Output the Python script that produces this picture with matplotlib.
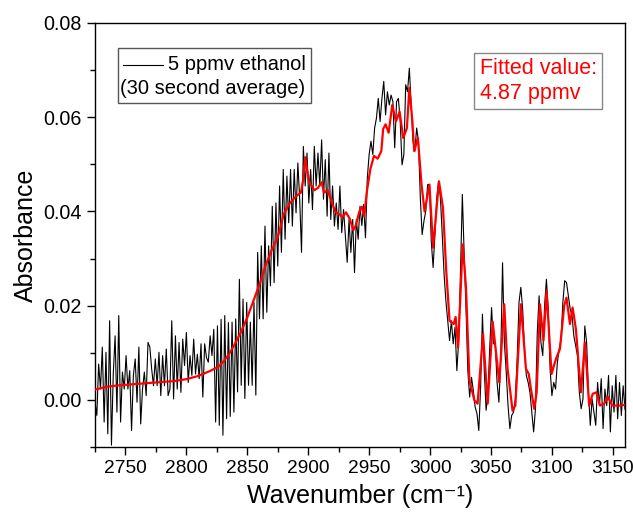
import numpy as np
import matplotlib
matplotlib.use("Agg")
import matplotlib.pyplot as plt
from matplotlib.lines import Line2D
from matplotlib.patches import Rectangle

plt.rcParams['font.family'] = ['Liberation Sans', 'DejaVu Sans']

# ---- data ----
spec_start = 2725.0
spec_step = 1.5
absorbance_measured = [
    -0.0005, -0.0033, 0.0076, 0.0023, 0.0112, -0.0047, 0.0101, -0.0072, 0.0168, -0.0096,
    0.0055, 0.0136, -0.0026, 0.0179, -0.0047, 0.0059, 0.0023, 0.0094, 0.0023, 0.0062,
    -0.0065, 0.0052, 0.0087, -0.0005, 0.0112, -0.0051, 0.0023, 0.0059, 0.0009, 0.0122,
    0.0112, 0.0066, 0.0030, 0.0087, 0.0030, 0.0101, 0.0009, 0.0094, 0.0030, 0.0108,
    0.0009, 0.0023, 0.0168, 0.0002, 0.0136, 0.0023, 0.0122, 0.0016, 0.0129, 0.0073,
    0.0143, 0.0037, 0.0094, 0.0052, 0.0129, 0.0055, 0.0097, 0.0045, 0.0119, 0.0006,
    0.0119, 0.0090, 0.0080, 0.0136, 0.0094, 0.0150, -0.0047, 0.0157, -0.0054, 0.0171,
    -0.0075, 0.0179, -0.0040, 0.0164, -0.0035, 0.0165, -0.0026, 0.0172, 0.0017, 0.0256,
    0.0031, 0.0214, 0.0003, 0.0207, 0.0031, 0.0165, 0.0031, 0.0207, 0.0010, 0.0313,
    0.0172, 0.0327, 0.0172, 0.0369, 0.0186, 0.0327, 0.0242, 0.0411, 0.0249, 0.0418,
    0.0284, 0.0454, 0.0313, 0.0489, 0.0341, 0.0475, 0.0376, 0.0489, 0.0369, 0.0489,
    0.0397, 0.0503, 0.0426, 0.0313, 0.0538, 0.0454, 0.0524, 0.0418, 0.0489, 0.0404,
    0.0538, 0.0454, 0.0524, 0.0454, 0.0552, 0.0426, 0.0510, 0.0390, 0.0524, 0.0383,
    0.0454, 0.0369, 0.0418, 0.0362, 0.0454, 0.0355, 0.0404, 0.0348, 0.0292, 0.0383,
    0.0313, 0.0383, 0.0270, 0.0383, 0.0341, 0.0411, 0.0370, 0.0415, 0.0344, 0.0471,
    0.0521, 0.0549, 0.0521, 0.0577, 0.0598, 0.0640, 0.0591, 0.0640, 0.0676, 0.0605,
    0.0654, 0.0626, 0.0647, 0.0633, 0.0535, 0.0633, 0.0640, 0.0591, 0.0499, 0.0521,
    0.0669, 0.0654, 0.0704, 0.0626, 0.0549, 0.0528, 0.0577, 0.0549, 0.0429, 0.0351,
    0.0380, 0.0401, 0.0457, 0.0457, 0.0337, 0.0281, 0.0351, 0.0429, 0.0464, 0.0429,
    0.0351, 0.0267, 0.0210, 0.0168, 0.0126, 0.0168, 0.0119, 0.0154, 0.0062, 0.0126,
    0.0274, 0.0436, 0.0309, 0.0196, 0.0062, 0.0006, 0.0048, 0.0020, -0.0015, -0.0029,
    -0.0065, 0.0027, 0.0182, 0.0062, -0.0022, 0.0013, 0.0112, 0.0196, 0.0119, 0.0120,
    0.0037, -0.0005, 0.0087, 0.0291, 0.0122, 0.0059, -0.0012, -0.0061, -0.0033, -0.0026,
    0.0002, 0.0087, 0.0207, 0.0239, 0.0193, 0.0108, 0.0052, 0.0037, 0.0016, -0.0026,
    -0.0068, -0.0019, 0.0143, 0.0221, 0.0122, 0.0094, 0.0200, 0.0256, 0.0193, 0.0066,
    0.0009, 0.0037, 0.0023, 0.0080, 0.0108, 0.0129, 0.0207, 0.0253, 0.0249, 0.0221,
    0.0193, 0.0179, 0.0136, 0.0115, 0.0094, 0.0016, -0.0019, 0.0002, 0.0157, 0.0122,
    0.0016, -0.0054, 0.0002, -0.0026, -0.0054, 0.0037, -0.0012, 0.0045, -0.0061, 0.0023,
    -0.0012, 0.0052, -0.0068, 0.0030, -0.0026, 0.0052, -0.0040, 0.0037, -0.0033, 0.0030, -0.0020,
]

fit_wavenumber = [
    2725, 2735, 2745, 2760, 2775, 2790, 2800, 2810, 2820, 2826, 2830, 2835, 2840, 2845,
    2850, 2855, 2860, 2865, 2870, 2875, 2880, 2885, 2890, 2894, 2896, 2897.5, 2899, 2901,
    2905, 2908, 2911, 2913, 2916, 2919, 2922, 2925, 2928, 2931, 2934, 2937, 2939, 2942,
    2944, 2946, 2948, 2951, 2954, 2957, 2960, 2961.5, 2963.5, 2966, 2969, 2972, 2975,
    2978, 2981, 2983, 2985.5, 2987, 2990, 2993, 2995.5, 2999.5, 3002.5, 3007.3, 3010.6,
    3013.3, 3016, 3019.4, 3021, 3023, 3026.8, 3029.5, 3032.3, 3036.4, 3039, 3043.5,
    3047.3, 3051.4, 3056.8, 3060.9, 3063.6, 3067.7, 3070, 3074.6, 3078.7, 3081, 3082.8,
    3085.5, 3087.5, 3090.2, 3093.1, 3095.6, 3099.7, 3103.3, 3106.6, 3110.1, 3112,
    3114.8, 3117, 3119.7, 3123.8, 3127.1, 3130.6, 3133.5, 3136.6, 3139.5, 3143, 3146,
    3149.6, 3156.5, 3160,
]
fit_absorbance = [
    0.0022, 0.0028, 0.0031, 0.0034, 0.0037, 0.0040, 0.0044, 0.0051, 0.0062, 0.0070,
    0.0080, 0.0097, 0.0120, 0.0145, 0.0175, 0.0210, 0.0245, 0.0285, 0.0318, 0.0345,
    0.0395, 0.0418, 0.0432, 0.0440, 0.0470, 0.0515, 0.0490, 0.0462, 0.0445, 0.0450,
    0.0462, 0.0440, 0.0445, 0.0422, 0.0400, 0.0395, 0.0388, 0.0398, 0.0385, 0.0360,
    0.0370, 0.0400, 0.0410, 0.0390, 0.0440, 0.0490, 0.0518, 0.0512, 0.0528, 0.0575,
    0.0585, 0.0567, 0.0626, 0.0591, 0.0612, 0.0556, 0.0577, 0.0662, 0.0591, 0.0528,
    0.0556, 0.0457, 0.0400, 0.0457, 0.0323, 0.0464, 0.0408, 0.0273, 0.0168, 0.0161,
    0.0176, 0.0111, 0.0330, 0.0239, 0.0041, -0.0001, -0.0008, 0.0140, -0.0008, 0.0166,
    0.0037, 0.0203, 0.0066, -0.0023, -0.0012, 0.0203, 0.0066, 0.0055, 0.0023, -0.0019,
    0.0016, 0.0203, 0.0126, 0.0231, 0.0055, 0.0087, 0.0108, 0.0200, 0.0217, 0.0161,
    0.0196, 0.0150, 0.0016, 0.0122, -0.0012, 0.0013, 0.0016, -0.0012, -0.0008, 0.0006,
    -0.0012, -0.0012, -0.0010,
]

x_ticks = [2750, 2800, 2850, 2900, 2950, 3000, 3050, 3100, 3150]
y_ticks = [0.00, 0.02, 0.04, 0.06, 0.08]
legend_line1 = "5 ppmv ethanol"
legend_line2 = "(30 second average)"
fit_text = "Fitted value:\n4.87 ppmv"

# ---- figure ----
fig = plt.figure(figsize=(6.33, 5.23), dpi=100)
ax = fig.add_axes([95 / 633, 76 / 523, 530 / 633, 424 / 523])

meas_x = spec_start + spec_step * np.arange(len(absorbance_measured))
ax.plot(meas_x, absorbance_measured, color='black', lw=0.8, zorder=2)
ax.plot(fit_wavenumber, fit_absorbance, color='#ff0000', lw=1.6, zorder=3)

ax.set_xlim(2725, 3160)
ax.set_ylim(-0.01, 0.08)
ax.set_xticks(x_ticks)
ax.set_xticks(np.arange(2725, 3161, 25), minor=True)
ax.set_yticks(y_ticks)
ax.set_yticks([-0.01, 0.01, 0.03, 0.05, 0.07], minor=True)
ax.set_yticklabels([f"{v:.2f}" for v in y_ticks])
ax.tick_params(axis='both', which='major', direction='out', length=6, width=1,
               top=False, right=False)
ax.tick_params(axis='y', which='major', labelsize=14.2)
ax.tick_params(axis='x', which='major', labelsize=13.8)
ax.tick_params(axis='both', which='minor', direction='out', length=3.5, width=1,
               top=False, right=False)
for s in ax.spines.values():
    s.set_linewidth(1.0)

ax.set_xlabel("Wavenumber (cm\u207b\u00b9)", fontsize=18, labelpad=5)
ax.set_ylabel("Absorbance", fontsize=18, labelpad=4)

# legend-like box
ax.add_patch(Rectangle((0.0434, 0.811), 0.364, 0.130, transform=ax.transAxes,
                       fill=True, facecolor='white', edgecolor='#555555', lw=1.0, zorder=4))
ax.add_line(Line2D([0.052, 0.128], [0.902, 0.902], transform=ax.transAxes,
                   color='black', lw=0.8, zorder=5))
ax.text(0.138, 0.902, legend_line1, transform=ax.transAxes, fontsize=14.5,
        va='center', ha='left', zorder=5)
ax.text(0.048, 0.846, legend_line2, transform=ax.transAxes, fontsize=14.5,
        va='center', ha='left', zorder=5)

# fitted value box
ax.text(0.726, 0.863, fit_text, transform=ax.transAxes, fontsize=15.5, color='#ff0000',
        va='center', ha='left', linespacing=1.2, zorder=5,
        bbox=dict(boxstyle='square,pad=0.25', facecolor='white', edgecolor='#888888', lw=1.0))

fig.savefig("out.png", dpi=100)
